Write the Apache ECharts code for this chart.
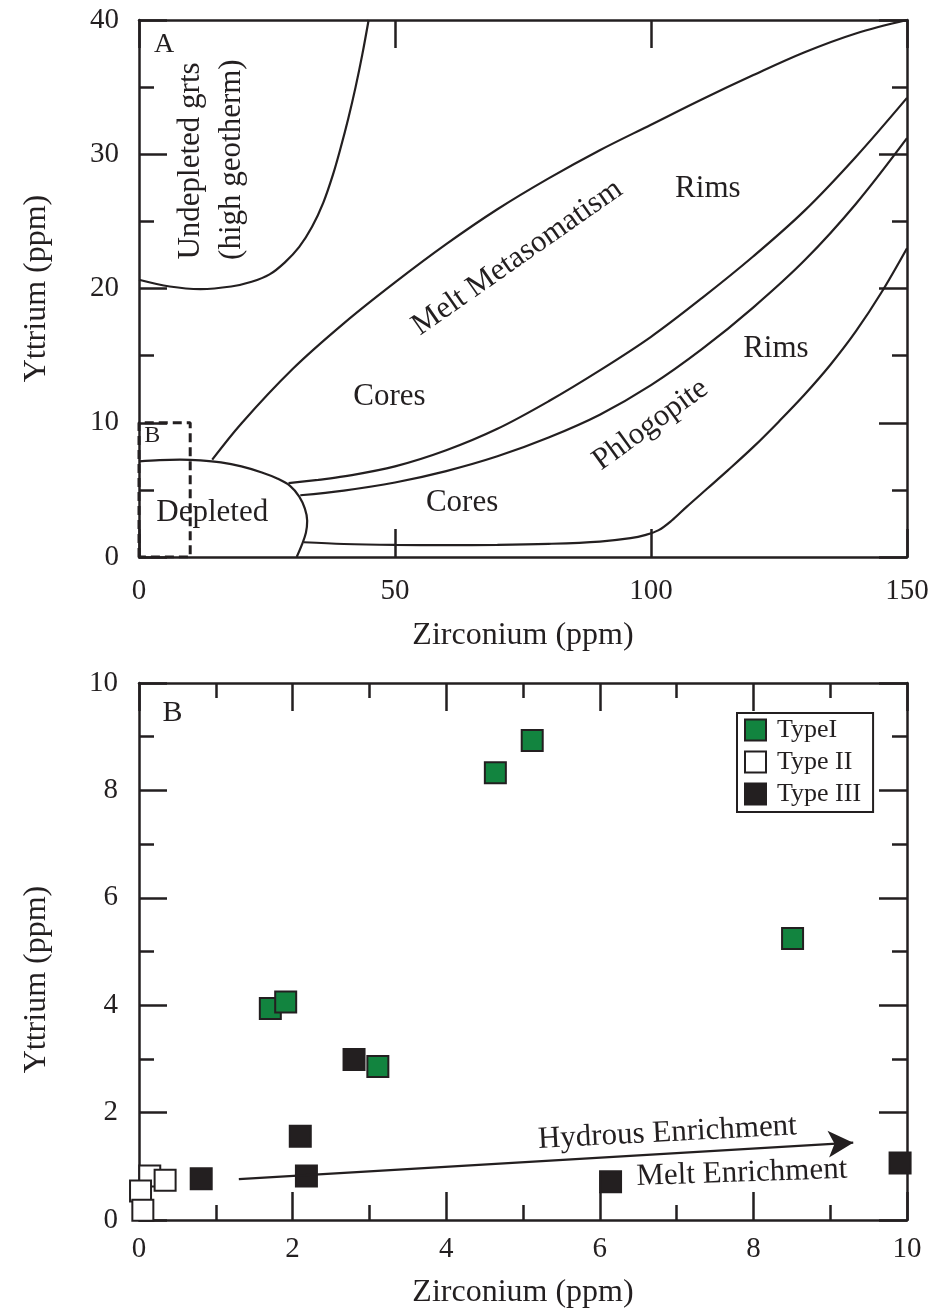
<!DOCTYPE html>
<html>
<head>
<meta charset="utf-8">
<script src="https://cdn.jsdelivr.net/npm/echarts@6/dist/echarts.min.js"></script>
<style>
  html, body { margin: 0; padding: 0; background: #fff; }
  #chart { width: 931px; height: 1312px; }
</style>
</head>
<body>
<div id="chart"></div>
<script>
// ---- Panel A: Zr–Y field boundaries (ppm) ----
const depletedField = [[0,7.12],[4,7.22],[8,7.25],[12,7.2],[16,7.05],[20,6.75],[24,6.3],[27,5.85],[29.5,5.3],[31.3,4.5],[32.4,3.6],[32.85,2.7],[32.6,1.8],[31.8,0.9],[30.8,0]];
const undepletedField = [[0,20.65],[6,20.15],[12,19.96],[18,20.15],[22,20.5],[25.5,21.05],[28.5,21.95],[31.3,23.1],[33.8,24.6],[36,26.4],[37.9,28.5],[39.4,30.5],[40.9,32.7],[42.3,35.0],[43.6,37.4],[44.85,40]];
const meltMetasomatismUpper = [[14.3,7.25],[20,9.95],[30,14.0],[40,17.4],[50,20.45],[60,23.3],[70,25.9],[80,28.2],[90,30.3],[100,32.2],[110,34.1],[120,35.9],[130,37.6],[140,39.0],[150,40]];
const meltMetasomatismLower = [[29.2,5.5],[35,5.75],[40,6.0],[50,6.75],[60,7.95],[70,9.55],[80,11.6],[90,13.9],[100,16.4],[110,19.3],[120,22.4],[130,25.8],[140,29.8],[150,34.2]];
const phlogopiteUpper = [[31.5,4.6],[40,4.95],[50,5.55],[60,6.4],[70,7.5],[80,8.9],[90,10.6],[100,12.8],[110,15.5],[120,18.6],[130,22.1],[140,26.3],[150,31.2]];
const phlogopiteLower = [[32.2,1.1],[40,0.97],[50,0.9],[60,0.88],[70,0.9],[80,0.98],[90,1.15],[96,1.4],[99,1.65],[101.5,2.0],[104,2.7],[107,3.75],[111,5.1],[115,6.45],[120,8.2],[125,10.1],[130,12.1],[135,14.3],[140,16.8],[145,19.7],[150,23.0]];
const panelBOutline = [[0,0],[0,10],[10,10],[10,0],[0,0]];

// ---- Panel B: garnet analyses (ppm) ----
const typeI   = [[4.64,8.33],[5.12,8.93],[8.51,5.24],[1.71,3.94],[1.91,4.06],[3.11,2.86]];
const typeII  = [[0.14,0.82],[0.34,0.74],[0.02,0.54],[0.05,0.18]];
const typeIII = [[0.81,0.77],[2.10,1.56],[2.18,0.82],[2.80,2.99],[6.14,0.71],[9.91,1.06]];
const enrichmentTrend = [[1.30,0.76],[9.30,1.44]];

const seriesNames = ['TypeI', 'Type II', 'Type III'];
const axisTitleX = 'Zirconium (ppm)';
const axisTitleY = 'Yttrium (ppm)';

// Field labels for each panel
const panelANotes = [
  { text: 'A', at: [4.9, 38.2], size: 28 },
  { text: 'Undepleted grts', at: [10.2, 29.5], rotate: 90 },
  { text: '(high geotherm)', at: [18.2, 29.6], rotate: 90 },
  { text: 'Melt Metasomatism', at: [73.9, 22.3], rotate: 35 },
  { text: 'Rims', at: [111.1, 27.4] },
  { text: 'Cores', at: [48.9, 11.9] },
  { text: 'Rims', at: [124.4, 15.5] },
  { text: 'Phlogopite', at: [99.9, 9.85], rotate: 36 },
  { text: 'Cores', at: [63.1, 4.0] },
  { text: 'Depleted', at: [14.3, 3.3] },
  { text: 'B', at: [2.6, 9.0], size: 24 }
];
const panelBNotes = [
  { text: 'B', at: [0.435, 9.43], size: 30 },
  { text: 'Hydrous Enrichment', at: [6.88, 1.62], rotate: 3, size: 31 },
  { text: 'Melt Enrichment', at: [7.85, 0.87], rotate: 2, size: 31 }
];

const ink = '#231f20';
const green = '#12843f';
const serif = '"Liberation Serif", "Times New Roman", serif';

function frameAxis(opts) {
  const labelled = opts.labelled;
  return Object.assign({
    type: 'value',
    axisLine: { show: true, onZero: false, lineStyle: { color: ink, width: 2.5 } },
    axisTick: { show: true, inside: true, length: 28, lineStyle: { color: ink, width: 2.5 } },
    minorTick: { show: !!opts.minor, splitNumber: 2, length: 15, lineStyle: { color: ink, width: 2.5 } },
    splitLine: { show: false },
    minorSplitLine: { show: false },
    axisLabel: labelled ? {
      show: true, color: ink, fontSize: 29, fontFamily: serif,
      margin: opts.margin, showMinLabel: true, showMaxLabel: true
    } : { show: false }
  }, opts.extra || {});
}

function curve(data) {
  return {
    type: 'line', xAxisIndex: 0, yAxisIndex: 0, data: data,
    symbol: 'none', showSymbol: false, smooth: 0.35, silent: true,
    lineStyle: { color: ink, width: 2.2 }, z: 3
  };
}

function notes(list, xi, yi) {
  return {
    type: 'scatter', xAxisIndex: xi, yAxisIndex: yi, silent: true, z: 6,
    symbolSize: 1, itemStyle: { color: '#ffffff', opacity: 1 },
    label: { show: true, position: 'inside', color: ink, fontFamily: serif, fontSize: 31, textBorderWidth: 0 },
    data: list.map(n => ({
      value: n.at,
      label: {
        formatter: n.text, rotate: n.rotate || 0, fontSize: n.size || 31,
        color: ink, textBorderWidth: 0, opacity: 1
      }
    }))
  };
}

function samples(name, data, fill) {
  return {
    type: 'scatter', name: name, xAxisIndex: 2, yAxisIndex: 2, data: data,
    symbol: 'rect', symbolSize: 21, silent: true, z: 4,
    itemStyle: { color: fill, borderColor: ink, borderWidth: 2, opacity: 1 }
  };
}

const chart = echarts.init(document.getElementById('chart'), null, { renderer: 'canvas' });

chart.setOption({
  animation: false,
  backgroundColor: '#fff',
  textStyle: { fontFamily: serif, color: ink },
  grid: [
    { left: 139, top: 20, width: 768, height: 537, outerBoundsMode: 'none', containLabel: false },
    { left: 139, top: 683, width: 768, height: 537, outerBoundsMode: 'none', containLabel: false }
  ],
  xAxis: [
    frameAxis({ labelled: true, margin: 20, extra: {
      gridIndex: 0, position: 'bottom', min: 0, max: 150, interval: 50,
      name: axisTitleX, nameLocation: 'middle', nameGap: 63,
      nameTextStyle: { color: ink, fontSize: 32, fontFamily: serif } } }),
    frameAxis({ labelled: false, extra: { gridIndex: 0, position: 'top', min: 0, max: 150, interval: 50 } }),
    frameAxis({ labelled: true, minor: true, margin: 15, extra: {
      gridIndex: 1, position: 'bottom', min: 0, max: 10, interval: 2,
      name: axisTitleX, nameLocation: 'middle', nameGap: 57,
      nameTextStyle: { color: ink, fontSize: 32, fontFamily: serif } } }),
    frameAxis({ labelled: false, minor: true, extra: { gridIndex: 1, position: 'top', min: 0, max: 10, interval: 2 } })
  ],
  yAxis: [
    frameAxis({ labelled: true, minor: true, margin: 20, extra: {
      gridIndex: 0, position: 'left', min: 0, max: 40, interval: 10,
      name: axisTitleY, nameLocation: 'middle', nameGap: 86, nameRotate: 90,
      nameTextStyle: { color: ink, fontSize: 32, fontFamily: serif } } }),
    frameAxis({ labelled: false, minor: true, extra: { gridIndex: 0, position: 'right', min: 0, max: 40, interval: 10 } }),
    frameAxis({ labelled: true, minor: true, margin: 21, extra: {
      gridIndex: 1, position: 'left', min: 0, max: 10, interval: 2,
      name: axisTitleY, nameLocation: 'middle', nameGap: 86, nameRotate: 90,
      nameTextStyle: { color: ink, fontSize: 32, fontFamily: serif, padding: [0, 56, 0, 0] } } }),
    frameAxis({ labelled: false, minor: true, extra: { gridIndex: 1, position: 'right', min: 0, max: 10, interval: 2 } })
  ],
  legend: {
    data: seriesNames,
    orient: 'vertical', left: 737, top: 713,
    itemWidth: 21, itemHeight: 21, itemGap: 6,
    padding: [4, 12, 5, 7],
    borderColor: ink, borderWidth: 2, borderRadius: 0,
    backgroundColor: '#fff',
    icon: 'rect', selectedMode: false,
    itemStyle: { borderColor: ink, borderWidth: 2 },
    textStyle: { color: ink, fontSize: 26, fontFamily: serif, padding: [0, 0, 0, 6] }
  },
  series: [
    // Panel A boundaries
    {
      type: 'line', xAxisIndex: 0, yAxisIndex: 0, data: panelBOutline,
      symbol: 'none', silent: true, z: 2,
      lineStyle: { color: ink, width: 3, type: [9, 5] }
    },
    curve(depletedField),
    curve(undepletedField),
    curve(meltMetasomatismUpper),
    curve(meltMetasomatismLower),
    curve(phlogopiteUpper),
    curve(phlogopiteLower),
    notes(panelANotes, 0, 0),

    // Panel B enrichment arrow
    {
      type: 'line', name: 'trend', xAxisIndex: 2, yAxisIndex: 2, data: [], silent: true, z: 1,
      markLine: {
        silent: true, animation: false,
        symbol: ['none', 'arrow'], symbolSize: [20, 25],
        label: { show: false },
        lineStyle: { color: ink, width: 2.2, type: 'solid' },
        data: [[{ coord: enrichmentTrend[0] }, { coord: enrichmentTrend[1] }]]
      }
    },
    samples('Type II', typeII, '#ffffff'),
    samples('Type III', typeIII, ink),
    samples('TypeI', typeI, green),
    notes(panelBNotes, 2, 2)
  ]
});
</script>
</body>
</html>
